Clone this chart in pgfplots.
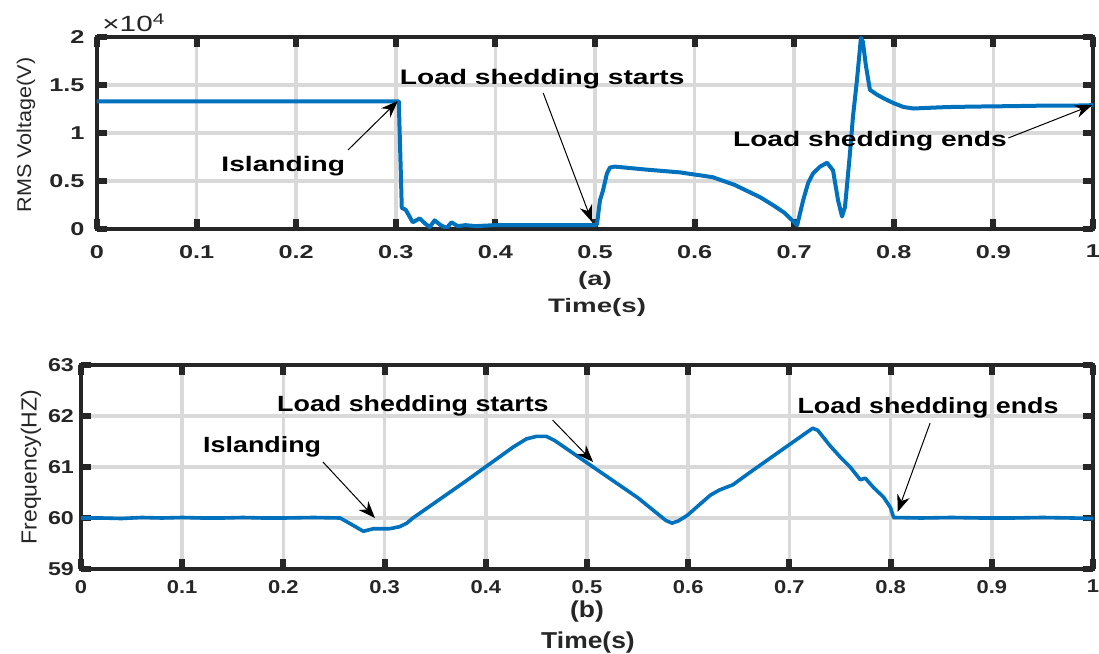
\documentclass[border=0pt]{standalone}
\usepackage{fontspec}
\setmainfont{Liberation Sans}
\usepackage{graphicx}
\usepackage{pgfplots}
\pgfplotsset{compat=1.18}
\usetikzlibrary{arrows.meta}

\definecolor{mblue}{RGB}{0,114,189}
\definecolor{tickc}{RGB}{38,38,38}
\newcommand{\hs}[2]{\scalebox{#1}[1]{#2}}

\pgfplotsset{
  panel/.style={
    scale only axis,
    xmin=0, xmax=1,
    xtick={0,0.1,0.2,0.3,0.4,0.5,0.6,0.7,0.8,0.9,1},
    grid=major,
    grid style={line width=1.8pt, black!15},
    axis line style={line width=2.3pt, tickc},
    major tick style={line width=3pt, tickc},
    major tick length=5pt,
    tick align=inside,
    ticklabel style={font=\bfseries\fontsize{9.3}{10}\selectfont, text=tickc},
  },
}
\tikzset{
  anno/.style={font=\bfseries\fontsize{10.5}{12}\selectfont, inner sep=0pt},
  annob/.style={font=\bfseries\fontsize{11}{12}\selectfont, inner sep=0pt},
  arr/.style={-{Stealth[length=8.5pt,width=6.5pt]}, line width=0.5pt, black},
}

\begin{document}
\begin{tikzpicture}
\useasboundingbox (0,0) rectangle (549.5pt,327pt);

% (a) RMS voltage
\begin{axis}[panel,
  at={(48.5pt,212.5pt)}, anchor=south west,
  width=498pt, height=96pt,
  ymin=0, ymax=2, ytick={0,0.5,1,1.5,2},
  xticklabel={\hs{1.36}{\pgfmathprintnumber[assume math mode=true]{\tick}}},
  yticklabel={\hs{1.36}{\pgfmathprintnumber[assume math mode=true]{\tick}}},
  xticklabel style={yshift=-4.5pt},
  yticklabel style={xshift=-2.7pt},
]
\addplot[mblue, line width=2pt, line join=round] coordinates {
 (0,1.33) (0.303,1.33) (0.305,0.6) (0.306,0.22) (0.31,0.2) (0.317,0.07)
 (0.324,0.11) (0.329,0.06) (0.334,0.02) (0.339,0.09) (0.345,0.04) (0.351,0.01)
 (0.356,0.07) (0.362,0.03) (0.37,0.04) (0.38,0.03) (0.4,0.04) (0.45,0.04)
 (0.5,0.04) (0.502,0.05) (0.505,0.3) (0.508,0.4) (0.512,0.58) (0.515,0.64)
 (0.52,0.65) (0.53,0.64) (0.55,0.62) (0.585,0.59) (0.618,0.54) (0.64,0.46)
 (0.666,0.33) (0.68,0.24) (0.69,0.17) (0.696,0.11) (0.703,0.04) (0.709,0.3)
 (0.714,0.48) (0.719,0.58) (0.726,0.65) (0.733,0.69) (0.739,0.61) (0.744,0.3)
 (0.748,0.13) (0.751,0.23) (0.756,0.79) (0.759,1.17) (0.763,1.55) (0.767,1.99)
 (0.769,1.95) (0.772,1.7) (0.776,1.45) (0.783,1.40) (0.79,1.36) (0.8,1.31)
 (0.81,1.27) (0.82,1.255) (0.83,1.26) (0.853,1.27) (0.88,1.275) (0.92,1.28)
 (0.95,1.285) (0.98,1.285) (1,1.29)
};
\node[anno] at (axis cs:0.187,0.656) {\hs{1.34}{Islanding}};
\draw[arr] (axis cs:0.252,0.823) -- (axis cs:0.302,1.333);
\node[anno] at (axis cs:0.447,1.5625) {\hs{1.34}{Load shedding starts}};
\draw[arr] (axis cs:0.448,1.417) -- (axis cs:0.497,0.073);
\node[anno] at (axis cs:0.776,0.917) {\hs{1.34}{Load shedding ends}};
\draw[arr] (axis cs:0.915,0.948) -- (axis cs:0.999,1.29);
\end{axis}

% (b) frequency
\begin{axis}[panel,
  at={(40.5pt,42.5pt)}, anchor=south west,
  width=506pt, height=102pt,
  ymin=59, ymax=63, ytick={59,60,61,62,63},
  xticklabel={\hs{1.18}{\pgfmathprintnumber[assume math mode=true]{\tick}}},
  yticklabel={\hs{1.25}{\pgfmathprintnumber[assume math mode=true]{\tick}}},
  xticklabel style={yshift=-2pt},
  yticklabel style={xshift=0pt},
]
\addplot[mblue, line width=1.8pt, line join=round] coordinates {
 (0,60.0) (0.02,60.0) (0.04,59.99) (0.06,60.01) (0.08,60.0) (0.1,60.01)
 (0.12,60.0) (0.14,60.0) (0.16,60.01) (0.18,60.0) (0.2,60.0) (0.23,60.01)
 (0.256,60.0) (0.265,59.9) (0.279,59.74) (0.289,59.79) (0.305,59.79)
 (0.315,59.83) (0.322,59.9) (0.328,60.0) (0.38,60.72) (0.427,61.39)
 (0.44,61.55) (0.45,61.6) (0.46,61.6) (0.468,61.52) (0.506,61.0)
 (0.55,60.4) (0.578,59.95) (0.584,59.9) (0.59,59.94) (0.599,60.05)
 (0.622,60.45) (0.631,60.55) (0.644,60.65) (0.66,60.88) (0.69,61.3)
 (0.723,61.76) (0.728,61.72) (0.74,61.42) (0.75,61.2) (0.76,61.0)
 (0.77,60.75) (0.775,60.78) (0.783,60.6) (0.793,60.41) (0.8,60.2)
 (0.803,60.01) (0.83,60.0) (0.86,60.01) (0.89,60.0) (0.92,60.0) (0.95,60.01) (0.98,60.0) (1,59.99)
};
\node[annob] at (axis cs:0.179,61.39) {\hs{1.22}{Islanding}};
\draw[arr] (axis cs:0.239,61.10) -- (axis cs:0.2905,60.0);
\node[annob] at (axis cs:0.328,62.2) {\hs{1.22}{Load shedding starts}};
\draw[arr] (axis cs:0.466,61.92) -- (axis cs:0.506,61.1);
\node[annob] at (axis cs:0.837,62.16) {\hs{1.22}{Load shedding ends}};
\draw[arr] (axis cs:0.839,61.86) -- (axis cs:0.807,60.12);
\end{axis}

% labels
\node[anchor=base west, inner sep=0pt, text=tickc, font=\fontsize{11}{12}\selectfont] at (51pt,311pt) {\hs{1.35}{×10\textsuperscript{4}}};
\node[rotate=90, inner sep=0pt, text=tickc, font=\fontsize{10.8}{12}\selectfont] at (13pt,259.5pt) {\scalebox{1}[0.92]{RMS Voltage(V)}};
\node[rotate=90, inner sep=0pt, text=tickc, font=\fontsize{11.5}{12}\selectfont] at (15.5pt,93.5pt) {\scalebox{1}[0.95]{Frequency(HZ)}};
\node[inner sep=0pt, text=tickc, font=\bfseries\fontsize{9.75}{11}\selectfont] at (297.5pt,187pt) {\hs{1.42}{(a)}};
\node[inner sep=0pt, text=tickc, font=\bfseries\fontsize{9.75}{11}\selectfont] at (298.5pt,173.5pt) {\hs{1.42}{Time(s)}};
\node[inner sep=0pt, text=tickc, font=\bfseries\fontsize{11.5}{12}\selectfont] at (293.5pt,21pt) {\hs{1.15}{(b)}};
\node[inner sep=0pt, text=tickc, font=\bfseries\fontsize{11.5}{12}\selectfont] at (294pt,5.5pt) {\hs{1.15}{Time(s)}};
\end{tikzpicture}
\end{document}
